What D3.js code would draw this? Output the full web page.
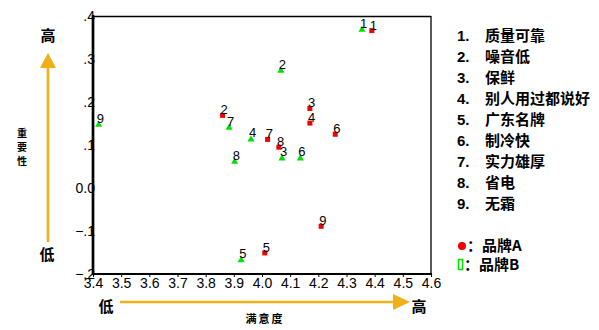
<!DOCTYPE html>
<html lang="zh">
<head>
<meta charset="utf-8">
<script src="https://cdn.jsdelivr.net/npm/d3@7"></script>
<style>
  body { margin: 0; background: #fff; }
  text { font-family: "Liberation Sans", Arial, sans-serif; }
  .cjk { font-family: "Noto Sans CJK SC", sans-serif; }
</style>
</head>
<body>
<svg id="chart" width="599" height="330"></svg>
<script>
"use strict";

// point numbers and the attribute each stands for
const pointLabels = ["1", "2", "3", "4", "5", "6", "7", "8", "9"];
const attributes = ["质量可靠", "噪音低", "保鲜", "别人用过都说好", "广东名牌", "制冷快", "实力雄厚", "省电", "无霜"];

// brand A (red squares): satisfaction x, importance y
const brandAX = [4.39, 3.86, 4.17, 4.17, 4.01, 4.26, 4.02, 4.06, 4.21];
const brandAY = [0.366, 0.169, 0.185, 0.151, -0.151, 0.125, 0.113, 0.095, -0.089];
// brand B (green triangles)
const brandBX = [4.355, 4.067, 4.071, 3.961, 3.926, 4.136, 3.883, 3.903, 3.42];
const brandBY = [0.368, 0.273, 0.069, 0.113, -0.168, 0.069, 0.14, 0.061, 0.147];

const xTicks = [3.4, 3.5, 3.6, 3.7, 3.8, 3.9, 4.0, 4.1, 4.2, 4.3, 4.4, 4.5, 4.6];
const yTicks = [-0.2, -0.1, 0.0, 0.1, 0.2, 0.3, 0.4];

const orange = "#f0b018";
const svg = d3.select("#chart");

const x = d3.scaleLinear().domain([3.4, 4.6]).range([93, 431]);
const y = d3.scaleLinear().domain([-0.2, 0.4]).range([274, 16]);

// x axis
svg.append("g")
  .attr("transform", "translate(0,274)")
  .call(d3.axisBottom(x).tickValues(xTicks).tickSize(3).tickFormat(d3.format(".1f")))
  .call(g => g.select(".domain").remove())
  .call(g => g.selectAll("line").attr("stroke", "#000"))
  .call(g => g.selectAll("text").attr("font-size", 14).attr("fill", "#000")
    .attr("font-family", "Liberation Sans").attr("dy", "0.6em"));

// y axis, labels like ".4", "0.0", "-.1"
const yFmt = d => d === 0 ? "0.0" : d3.format(".1f")(d).replace("0.", ".");
svg.append("g")
  .attr("transform", "translate(95,0)")
  .call(d3.axisLeft(y).tickValues(yTicks).tickSize(0).tickPadding(0).tickFormat(yFmt))
  .call(g => g.select(".domain").remove())
  .call(g => g.selectAll("text").attr("font-size", 14).attr("fill", "#000")
    .attr("font-family", "Liberation Sans"));

// frame
svg.append("line").attr("x1", 93).attr("x2", 431).attr("y1", 16.5).attr("y2", 16.5)
  .attr("stroke", "#000").attr("stroke-width", 1.3);
svg.append("line").attr("x1", 431).attr("x2", 431).attr("y1", 16).attr("y2", 274)
  .attr("stroke", "#000").attr("stroke-width", 1.3);
svg.append("line").attr("x1", 92).attr("x2", 432).attr("y1", 274).attr("y2", 274)
  .attr("stroke", "#000").attr("stroke-width", 2);
svg.append("line").attr("x1", 93).attr("x2", 93).attr("y1", 15).attr("y2", 275)
  .attr("stroke", "#000").attr("stroke-width", 2.7);

// brand B markers
const tri = d3.symbol().type(d3.symbolTriangle).size(22);
svg.append("g").selectAll("path")
  .data(pointLabels)
  .join("path")
  .attr("d", tri)
  .attr("transform", (d, i) => `translate(${x(brandBX[i])},${y(brandBY[i])})`)
  .attr("fill", "#00e000");

// brand A markers
svg.append("g").selectAll("rect")
  .data(pointLabels)
  .join("rect")
  .attr("x", (d, i) => x(brandAX[i]) - 2.5)
  .attr("y", (d, i) => y(brandAY[i]) - 2.5)
  .attr("width", 5).attr("height", 5)
  .attr("fill", "#f00000");

// point number labels
const labelG = svg.append("g").attr("font-size", 13).attr("fill", "#000");
labelG.selectAll("text.a")
  .data(pointLabels)
  .join("text")
  .attr("class", "a")
  .attr("x", (d, i) => x(brandAX[i]) - 2)
  .attr("y", (d, i) => y(brandAY[i]) - 1)
  .text(d => d);
labelG.selectAll("text.b")
  .data(pointLabels)
  .join("text")
  .attr("class", "b")
  .attr("x", (d, i) => x(brandBX[i]) - 2)
  .attr("y", (d, i) => y(brandBY[i]) - 2)
  .text(d => d);

// vertical arrow (importance)
svg.append("line").attr("x1", 48).attr("x2", 48).attr("y1", 66).attr("y2", 242)
  .attr("stroke", orange).attr("stroke-width", 2.7);
svg.append("path").attr("d", "M48,53 L56,68 L40,68 Z").attr("fill", orange);
svg.append("text").attr("class", "cjk").attr("x", 48).attr("y", 41)
  .attr("text-anchor", "middle").attr("font-size", 15).attr("font-weight", "bold").text("高");
svg.append("text").attr("class", "cjk").attr("x", 47).attr("y", 260)
  .attr("text-anchor", "middle").attr("font-size", 15).attr("font-weight", "bold").text("低");
svg.append("g").selectAll("text")
  .data(["重", "要", "性"])
  .join("text")
  .attr("class", "cjk")
  .attr("x", 22)
  .attr("y", (d, i) => 137 + i * 14)
  .attr("text-anchor", "middle")
  .attr("font-size", 10)
  .attr("font-weight", 600)
  .text(d => d);

// horizontal arrow (satisfaction)
svg.append("line").attr("x1", 120).attr("x2", 396).attr("y1", 302).attr("y2", 302)
  .attr("stroke", orange).attr("stroke-width", 2.7);
svg.append("path").attr("d", "M410,302 L393,294 L393,310 Z").attr("fill", orange);
svg.append("text").attr("class", "cjk").attr("x", 106).attr("y", 312)
  .attr("text-anchor", "middle").attr("font-size", 15).attr("font-weight", "bold").text("低");
svg.append("text").attr("class", "cjk").attr("x", 419).attr("y", 312)
  .attr("text-anchor", "middle").attr("font-size", 15).attr("font-weight", "bold").text("高");
svg.append("text").attr("class", "cjk").attr("x", 265).attr("y", 323)
  .attr("text-anchor", "middle").attr("font-size", 11).attr("font-weight", 600)
  .attr("letter-spacing", 2).text("满意度");

// legend: attribute list
const legend = svg.append("g");
const rowY = i => 41 + i * 21;
legend.selectAll("text.num")
  .data(pointLabels)
  .join("text")
  .attr("class", "num")
  .attr("x", 457)
  .attr("y", (d, i) => rowY(i))
  .attr("font-family", "Liberation Serif")
  .attr("font-weight", "bold")
  .attr("font-size", 15)
  .text(d => d + ".");
legend.selectAll("text.attr")
  .data(attributes)
  .join("text")
  .attr("class", "attr cjk")
  .attr("x", 485)
  .attr("y", (d, i) => rowY(i))
  .attr("font-weight", "bold")
  .attr("font-size", 15)
  .text(d => d);

// legend: brands
legend.append("circle").attr("cx", 462).attr("cy", 246).attr("r", 4).attr("fill", "#f00000");
legend.append("text").attr("class", "cjk").attr("x", 467).attr("y", 251)
  .attr("font-weight", "bold").attr("font-size", 15).text("：品牌A");
legend.append("rect").attr("x", 458.5).attr("y", 259.5).attr("width", 4).attr("height", 10)
  .attr("fill", "none").attr("stroke", "#00e000").attr("stroke-width", 1.5);
legend.append("text").attr("class", "cjk").attr("x", 464).attr("y", 270)
  .attr("font-weight", "bold").attr("font-size", 15).text("：品牌B");
</script>
</body>
</html>
